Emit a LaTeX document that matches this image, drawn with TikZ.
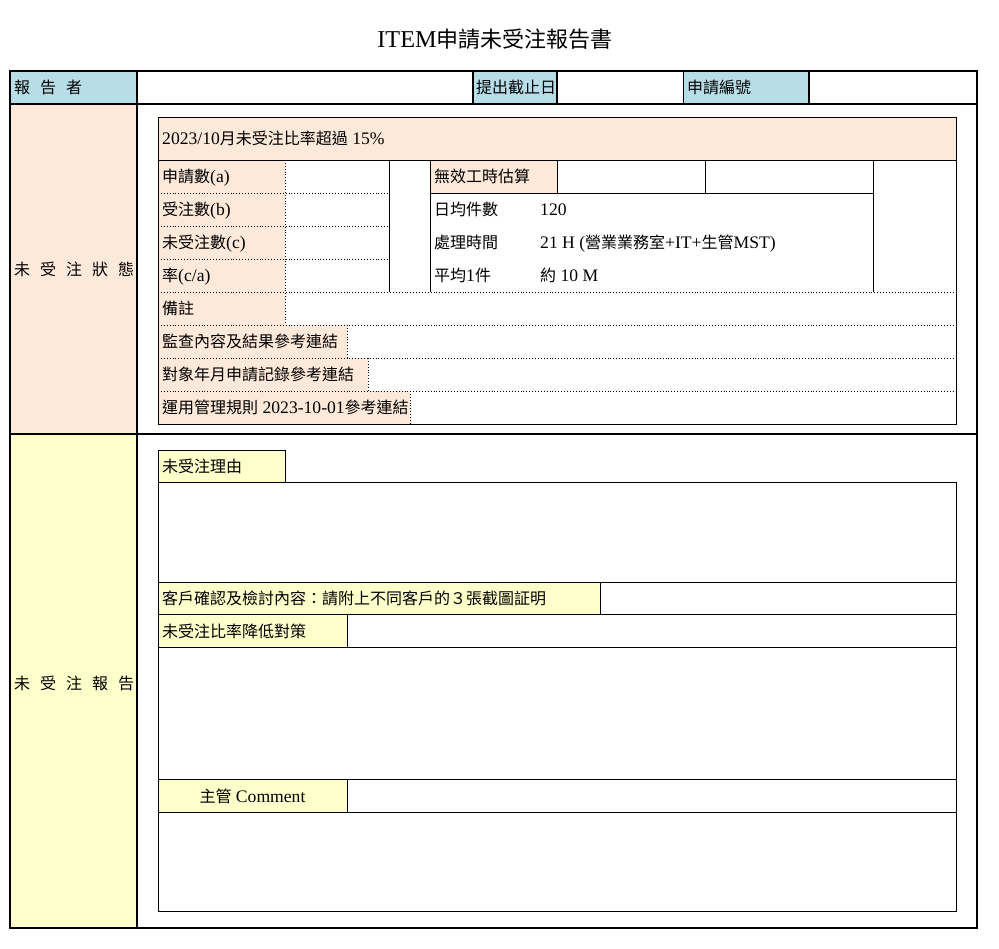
\documentclass[tikz,border=0pt]{standalone}
\usepackage{fontspec}
\setmainfont{Noto Sans CJK TC}
\newfontfamily\lat[Scale=1.1]{Liberation Serif}
\definecolor{hblue}{HTML}{B7DEE8}
\definecolor{peach}{HTML}{FDE9D9}
\definecolor{lyel}{HTML}{FFFFCC}
\newcommand{\gapsp}{\hspace{10pt}}
\newcommand{\la}[1]{{\lat #1}}
\tikzset{
  lbl/.style={anchor=base west, inner sep=0pt, font=\fontsize{16}{18}\selectfont},
  clbl/.style={anchor=base, inner sep=0pt, font=\fontsize{16}{18}\selectfont},
  thick line/.style={line width=2pt},
  thin line/.style={line width=0.9pt},
  dot line/.style={line width=0.9pt, dotted},
}
\begin{document}
\begin{tikzpicture}[x=1pt,y=-1pt]
\useasboundingbox (0,0) rectangle (999,949);
% ---------- fills ----------
\fill[hblue] (10,71) rectangle (137,104);
\fill[hblue] (473,71) rectangle (557,104);
\fill[hblue] (683,71) rectangle (809,104);
\fill[peach] (10,104) rectangle (137,434);
\fill[lyel] (10,434) rectangle (137,928);
% inner table 1
\fill[peach] (158,117) rectangle (956,160);
\fill[peach] (158,160) rectangle (285,325);
\fill[peach] (430,160) rectangle (557,193);
\fill[peach] (158,325) rectangle (347,358);
\fill[peach] (158,358) rectangle (368,391);
\fill[peach] (158,391) rectangle (410,424);
% section 2
\fill[lyel] (158,450) rectangle (285,482);
\fill[lyel] (158,582) rectangle (600,614);
\fill[lyel] (158,614) rectangle (347,647);
\fill[lyel] (158,779) rectangle (347,812);
% ---------- inner table 1 lines ----------
\draw[dot line] (158,193) -- (389,193);
\draw[dot line] (158,226) -- (389,226);
\draw[dot line] (158,259) -- (389,259);
\draw[dot line] (158,292) -- (956,292);
\draw[dot line] (158,325) -- (956,325);
\draw[dot line] (158,358) -- (956,358);
\draw[dot line] (158,391) -- (956,391);
\draw[dot line] (285,160) -- (285,325);
\draw[dot line] (347,325) -- (347,358);
\draw[dot line] (368,358) -- (368,391);
\draw[dot line] (410,391) -- (410,424);
\draw[thin line] (158,160) -- (956,160);
\draw[thin line] (430,193) -- (873,193);
\draw[thin line] (389,160) -- (389,292);
\draw[thin line] (430,160) -- (430,292);
\draw[thin line] (557,160) -- (557,193);
\draw[thin line] (705,160) -- (705,193);
\draw[thin line] (873,160) -- (873,292);
\draw[thin line] (158,117) rectangle (956,424);
% ---------- section 2 lines ----------
\draw[thin line] (158,450) rectangle (285,482);
\draw[thin line] (158,482) rectangle (956,911);
\draw[thin line] (158,582) -- (956,582);
\draw[thin line] (158,614) -- (956,614);
\draw[thin line] (158,647) -- (956,647);
\draw[thin line] (158,779) -- (956,779);
\draw[thin line] (158,812) -- (956,812);
\draw[thin line] (600,582) -- (600,614);
\draw[thin line] (347,614) -- (347,647);
\draw[thin line] (347,779) -- (347,812);
% ---------- outer frame ----------
\draw[thin line] (683,71) -- (683,104);
\draw[thick line] (473,71) -- (473,104);
\draw[thick line] (557,71) -- (557,104);
\draw[thick line] (809,71) -- (809,104);
\draw[thick line] (10,104) -- (977,104);
\draw[thick line] (10,434) -- (977,434);
\draw[thick line] (137,71) -- (137,928);
\draw[thick line] (10,71) rectangle (977,928);
% ---------- texts ----------
\node[anchor=base, inner sep=0pt, font=\fontsize{22}{25}\selectfont] (title) at (495,48) {\la{ITEM}申請未受注報告書};
\node[lbl] (rep) at (14,94) {報\gapsp 告\gapsp 者};
\node[lbl] (due) at (476,94) {提出截止日};
\node[lbl] (appno) at (687,94) {申請編號};
\node[lbl] (stat) at (14,276) {未\gapsp 受\gapsp 注\gapsp 狀\gapsp 態};
\node[lbl] (repo) at (14,689) {未\gapsp 受\gapsp 注\gapsp 報\gapsp 告};
\node[lbl] (head) at (162,145) {\la{2023/10}月未受注比率超過\la{ 15\%}};
\node[lbl] (ra) at (162,183) {申請數\la{(a)}};
\node[lbl] (rb) at (162,216) {受注數\la{(b)}};
\node[lbl] (rc) at (162,249) {未受注數\la{(c)}};
\node[lbl] (rr) at (162,282) {率\la{(c/a)}};
\node[lbl] (wx) at (434,183) {無效工時估算};
\node[lbl] (d1) at (434,216) {日均件數};
\node[lbl] (v1) at (540,216) {\la{120}};
\node[lbl] (d2) at (434,249) {處理時間};
\node[lbl] (v2) at (540,249) {\la{21 H (}營業業務室\la{+IT+}生管\la{MST)}};
\node[lbl] (d3) at (434,282) {平均\la{1}件};
\node[lbl] (v3) at (540,282) {約\la{ 10 M}};
\node[lbl] (note) at (162,315) {備註};
\node[lbl] (l1) at (162,348) {監查內容及結果參考連結};
\node[lbl] (l2) at (162,381) {對象年月申請記錄參考連結};
\node[lbl] (l3) at (162,414) {運用管理規則\la{ 2023-10-01}參考連結};
\node[lbl] (why) at (162,472) {未受注理由};
\node[lbl] (cust) at (162,604) {客戶確認及檢討內容：請附上不同客戶的３張截圖証明};
\node[lbl] (meas) at (162,637) {未受注比率降低對策};
\node[clbl] (boss) at (252.5,802) {主管\la{ Comment}};
\end{tikzpicture}
\end{document}
